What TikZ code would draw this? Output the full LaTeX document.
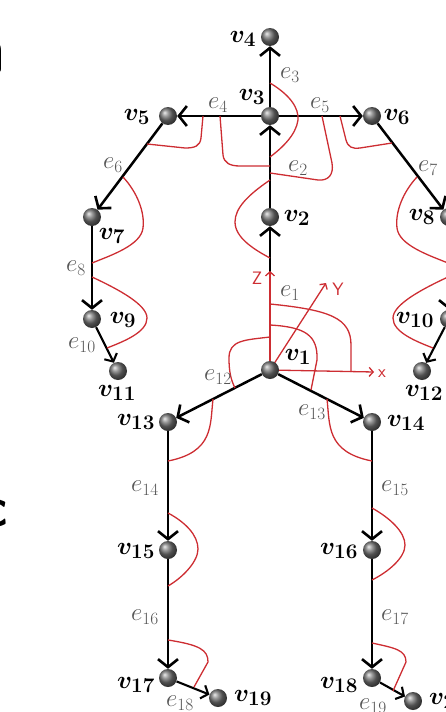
\documentclass[tikz,border=0pt]{standalone}
\usepackage{bm}
\usetikzlibrary{arrows.meta,shapes.geometric}
\definecolor{rcol}{RGB}{205,45,50}
\definecolor{ecol}{RGB}{85,85,85}
\tikzset{
  bone/.style={line width=2.5pt,-{Straight Barb[length=8pt,width=20pt,line width=2.6pt]}},
  smallbone/.style={line width=2.1pt,-{Straight Barb[length=6pt,width=14pt,line width=2.1pt]}},
  vlab/.style={inner sep=0pt,font=\fontsize{28}{32}\selectfont},
  elab/.style={inner sep=0pt,text=ecol,font=\fontsize{27}{30}\selectfont},
  rcurve/.style={draw=rcol,line width=1.3pt},
  raxis/.style={draw=rcol,line width=1.3pt,-{Straight Barb[length=4pt,width=9pt,line width=1.3pt]}},
  alab/.style={inner sep=0pt,text=rcol,font=\sffamily\fontsize{18}{20}\selectfont},
  frag/.style={inner sep=0pt,font=\sffamily\bfseries}
}
\begin{document}
\begin{tikzpicture}[x=1pt,y=-1pt]
\useasboundingbox (0,0) rectangle (446,712);
% partial letters at left border
\node[frag,anchor=base east,font=\sffamily\bfseries\fontsize{66}{66}\selectfont] (fragn) at (6.2,72) {n};
\node[frag,anchor=base east,font=\sffamily\bfseries\fontsize{56}{56}\selectfont] (fragc) at (8,526) {c};
% joints
\coordinate (p1) at (270,370);
\coordinate (p2) at (270,217);
\coordinate (p3) at (270,116);
\coordinate (p4) at (270,37);
\coordinate (p5) at (168,116);
\coordinate (p6) at (372,116);
\coordinate (p7) at (92,217);
\coordinate (p8) at (449,217);
\coordinate (p9) at (92,319);
\coordinate (p10) at (449,319);
\coordinate (p11) at (118,371);
\coordinate (p12) at (422,371);
\coordinate (p13) at (168,422);
\coordinate (p14) at (372,422);
\coordinate (p15) at (168,550);
\coordinate (p16) at (372,550);
\coordinate (p17) at (168,678);
\coordinate (p18) at (372,678);
\coordinate (p19) at (218,698);
\coordinate (p20) at (413,701);
\foreach \i in {1,...,20} { \node[circle,minimum size=18pt,inner sep=0pt] (v\i) at (p\i) {}; }
% black edges
\draw[bone] (v1) -- (v2);
\draw[bone] (v2) -- (v3);
\draw[bone] (v3) -- (v4);
\draw[bone] (v3) -- (v5);
\draw[bone] (v3) -- (v6);
\draw[bone] (v5) -- (v7);
\draw[bone] (v6) -- (v8);
\draw[bone] (v7) -- (v9);
\draw[bone] (v8) -- (v10);
\draw[smallbone] (v9) -- (v11);
\draw[smallbone] (v10) -- (v12);
\draw[bone] (v1) -- (v13);
\draw[bone] (v1) -- (v14);
\draw[bone] (v13) -- (v15);
\draw[bone] (v14) -- (v16);
\draw[bone] (v15) -- (v17);
\draw[bone] (v16) -- (v18);
\draw[smallbone] (v17) -- (v19);
\draw[smallbone] (v18) -- (v20);
% red axes
\coordinate (zt) at (270,271);
\coordinate (yt) at (326,283);
\coordinate (xt) at (374,372);
\draw[raxis] (v1.center) -- (zt);
\draw[raxis] (v1.center) -- (yt);
\draw[raxis] (v1.center) -- (xt);
\node[alab] (zl) at (257,278) {Z};
\node[alab] (yl) at (338,289) {Y};
\node[alab] (xl) at (382,374) {x};
% red curves
\draw[rcurve] (270,304) .. controls (330,310) and (351,318) .. (351,345) -- (351,372);
\draw[rcurve] (270,325) .. controls (305,327) and (318,335) .. (317,360) -- (311,390);
\draw[rcurve] (270,337) .. controls (245,340) and (229,340) .. (229,358) .. controls (229,372) and (231,380) .. (235,388);
\draw[rcurve] (213,399) .. controls (210,425) and (214,452) .. (168,461);
\draw[rcurve] (327,399) .. controls (330,425) and (326,452) .. (372,461);
\draw[rcurve] (168,513) .. controls (185,522) and (198,535) .. (198,549) .. controls (198,562) and (182,578) .. (168,586);
\draw[rcurve] (372,508) .. controls (390,518) and (405,532) .. (405,545) .. controls (405,558) and (388,572) .. (372,580);
\draw[rcurve] (168,640) .. controls (200,645) and (208,650) .. (208,662) -- (194,687);
\draw[rcurve] (372,643) .. controls (395,648) and (406,650) .. (406,662) -- (393,691);
\draw[rcurve] (270,83) .. controls (290,95) and (299,108) .. (298,120) .. controls (296,135) and (282,148) .. (270,157);
\draw[rcurve] (220,116) -- (223,155) .. controls (224,163) and (230,166) .. (240,166) -- (270,166);
\draw[rcurve] (322,116) -- (332,163) .. controls (334,175) and (328,181) .. (318,180) -- (270,173);
\draw[rcurve] (270,180) .. controls (248,195) and (235,208) .. (235,222) .. controls (235,238) and (255,250) .. (270,258);
\draw[rcurve] (203,116) -- (201,138) .. controls (200,146) and (195,148) .. (185,148) -- (147,144);
\draw[rcurve] (340,116) -- (346,140) .. controls (348,147) and (352,149) .. (360,148) -- (392,143);
\draw[rcurve] (123,177) .. controls (137,192) and (145,212) .. (143,228) .. controls (141,245) and (112,255) .. (92,263);
\draw[rcurve] (417,177) .. controls (403,192) and (395,212) .. (397,228) .. controls (399,245) and (428,255) .. (448,263);
\draw[rcurve] (92,277) .. controls (120,290) and (147,305) .. (147,318) .. controls (147,332) and (125,341) .. (107,348);
\draw[rcurve] (448,277) .. controls (420,290) and (393,305) .. (393,318) .. controls (393,332) and (415,341) .. (433,348);
% balls on top
\foreach \i in {1,...,20} { \shade[ball color=black!55] (p\i) circle (9pt); }
% joint labels
\node[vlab] (l1) at (298,357) {$\bm{v_{1}}$};
\node[vlab] (l2) at (297,218) {$\bm{v_{2}}$};
\node[vlab] (l3) at (252,97) {$\bm{v_{3}}$};
\node[vlab] (l4) at (243,39) {$\bm{v_{4}}$};
\node[vlab] (l5) at (137,117) {$\bm{v_{5}}$};
\node[vlab] (l6) at (397,117) {$\bm{v_{6}}$};
\node[vlab] (l7) at (112,236) {$\bm{v_{7}}$};
\node[vlab] (l8) at (422,217) {$\bm{v_{8}}$};
\node[vlab] (l9) at (123,320) {$\bm{v_{9}}$};
\node[vlab] (l10) at (415,320) {$\bm{v_{10}}$};
\node[vlab] (l11) at (117,393) {$\bm{v_{11}}$};
\node[vlab] (l12) at (424,393) {$\bm{v_{12}}$};
\node[vlab] (l13) at (136,422) {$\bm{v_{13}}$};
\node[vlab] (l14) at (406,423) {$\bm{v_{14}}$};
\node[vlab] (l15) at (136,551) {$\bm{v_{15}}$};
\node[vlab] (l16) at (339,551) {$\bm{v_{16}}$};
\node[vlab] (l17) at (136,685) {$\bm{v_{17}}$};
\node[vlab] (l18) at (339,685) {$\bm{v_{18}}$};
\node[vlab] (l19) at (253,698) {$\bm{v_{19}}$};
\node[vlab,anchor=west] (l20) at (429,701) {$\bm{v_{20}}$};
% edge labels
\node[elab] (e1) at (290,293) {$e_{1}$};
\node[elab] (e2) at (298,168) {$e_{2}$};
\node[elab] (e3) at (290,75) {$e_{3}$};
\node[elab] (e4) at (218,105) {$e_{4}$};
\node[elab] (e5) at (320,105) {$e_{5}$};
\node[elab] (e6) at (113,165) {$e_{6}$};
\node[elab] (e7) at (428,168) {$e_{7}$};
\node[elab] (e8) at (76,268) {$e_{8}$};
\node[elab] (e10) at (82,345) {$e_{10}$};
\node[elab] (e12) at (218,377) {$e_{12}$};
\node[elab] (e13) at (312,412) {$e_{13}$};
\node[elab] (e14) at (145,488) {$e_{14}$};
\node[elab] (e15) at (395,488) {$e_{15}$};
\node[elab] (e16) at (145,617) {$e_{16}$};
\node[elab] (e17) at (395,617) {$e_{17}$};
\node[elab] (e18) at (180,703) {$e_{18}$};
\node[elab] (e19) at (373,706) {$e_{19}$};
\end{tikzpicture}
\end{document}
